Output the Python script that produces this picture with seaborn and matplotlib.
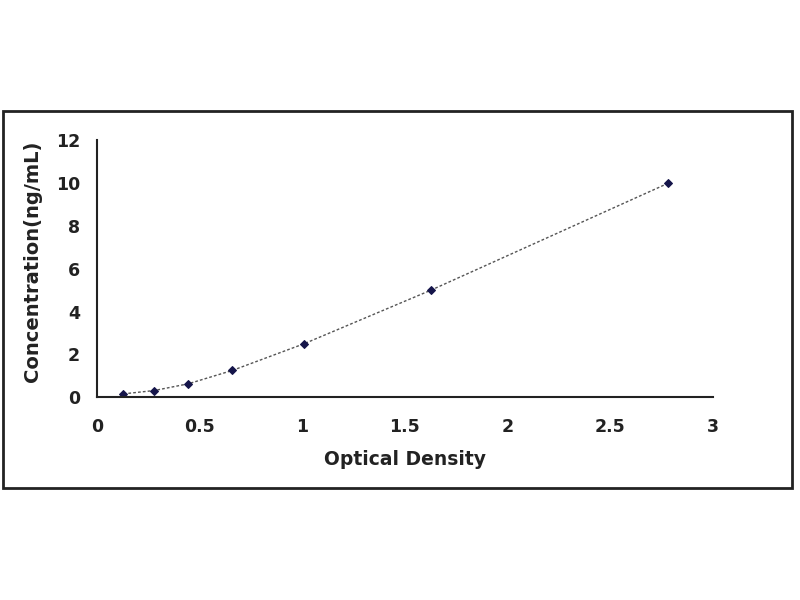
import seaborn as sns
import pandas as pd
import matplotlib.pyplot as plt
from matplotlib.patches import Rectangle

## standard curve values
optical_density = [0.13, 0.28, 0.445, 0.66, 1.01, 1.627, 2.783]
concentration = [0.156, 0.312, 0.625, 1.25, 2.5, 5.0, 10.0]
x_ticks = [0, 0.5, 1, 1.5, 2, 2.5, 3]
x_tick_labels = ["0", "0.5", "1", "1.5", "2", "2.5", "3"]
y_ticks = [0, 2, 4, 6, 8, 10, 12]

sns.set_style("white")
plt.rcParams['font.family'] = ['DejaVu Sans']

df = pd.DataFrame({"od": optical_density, "conc": concentration})

fig = plt.figure(figsize=(8, 6), dpi=100)
ax = fig.add_axes([0.121, 0.338, 0.77, 0.428])

sns.lineplot(data=df, x="od", y="conc", ax=ax, color="#555555", linewidth=1.0,
             linestyle=(0, (2, 1.5)), marker="D", markersize=4.5,
             markerfacecolor="#15154a", markeredgecolor="#15154a")

ax.set_xlim(0, 3)
ax.set_ylim(0, 12)
ax.set_xticks(x_ticks)
ax.set_xticklabels(x_tick_labels)
ax.set_yticks(y_ticks)
ax.tick_params(direction="in", length=4, width=1.2, colors="#222222", labelsize=12.5)
ax.tick_params(axis="x", pad=15)
ax.tick_params(axis="y", pad=12)
for lab in ax.get_xticklabels() + ax.get_yticklabels():
    lab.set_fontweight("bold")
    lab.set_color("#222222")

ax.set_xlabel("Optical Density", fontsize=13.5, fontweight="bold", color="#222222", labelpad=10)
ax.set_ylabel("Concentration(ng/mL)", fontsize=14, fontweight="bold", color="#222222")
ax.yaxis.set_label_coords(-0.089, 0.53)

sns.despine(ax=ax)
for side in ["left", "bottom"]:
    ax.spines[side].set_linewidth(1.5)
    ax.spines[side].set_color("#222222")

## outer frame around the chart
fig.patches.append(Rectangle((0.004, 0.187), 0.986, 0.628, transform=fig.transFigure,
                             fill=False, edgecolor="#222222", linewidth=2))

fig.savefig("out.png", dpi=100)
